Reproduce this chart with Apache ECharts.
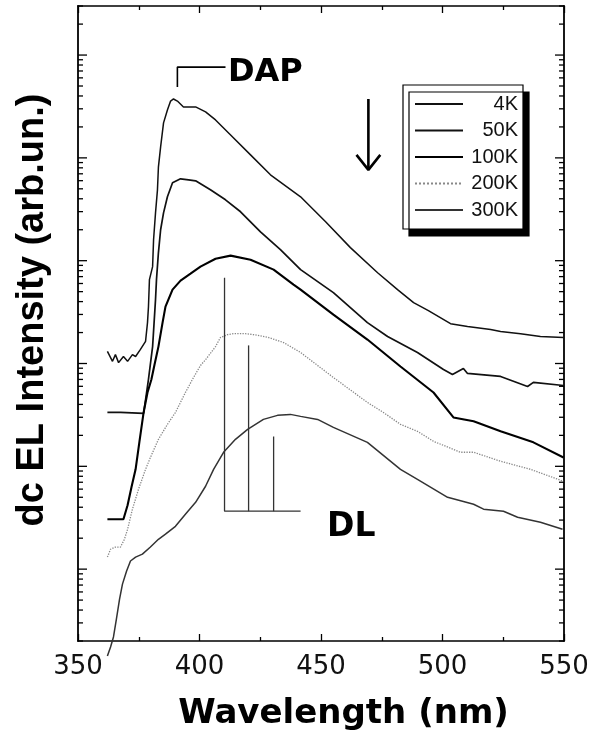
<!DOCTYPE html>
<html>
<head>
<meta charset="utf-8">
<script src="https://cdn.jsdelivr.net/npm/echarts@6/dist/echarts.min.js"></script>
<style>html,body{margin:0;padding:0;background:#fff;}#c{width:598px;height:739px;}</style>
</head>
<body>
<div id="c"></div>
<script>
// ---- data (wavelength nm, intensity arb. units) ----
const xTicks = [350, 400, 450, 500, 550];
const yRange = [0.2, 300000];
const yDecades = [1, 10, 100, 1000, 10000, 100000];
const yMinorSteps = [2, 3, 4, 5, 6, 7, 8, 9];
const seriesNames = ['4K', '50K', '100K', '200K', '300K'];

const data4K = [[362.1,131],[364.2,105],[365.4,122],[366.7,102],[368.7,117],[370.4,105],[372.4,122],[373.7,117],[375.7,137],[377.8,164],[378.6,250],[379.0,357],[379.4,654],[380.7,875],[381.1,1600],[381.9,2920],[382.7,4890],[383.1,8180],[384.0,12800],[385.2,21900],[386.8,29200],[388.1,35700],[389.3,37400],[390.9,35700],[393.4,31300],[396.3,31300],[398.4,31300],[402.5,28000],[406.6,23400],[412.8,16700],[421.0,10700],[429.2,6840],[441.6,4180],[451.9,2390],[462.1,1340],[473.3,764],[481.5,523],[488.1,391],[494.2,327],[503.3,244],[510.3,229],[519.8,214],[523.9,205],[532.1,195],[540.3,183],[549.8,179]];
const data50K = [[362.1,33.4],[367.5,33.4],[377.0,32.7],[379.0,70.0],[380.7,146],[381.9,418],[382.3,654],[383.1,1200],[384.0,2000],[385.2,2920],[386.8,4180],[388.9,5720],[392.2,6250],[395.5,6110],[398.4,5980],[404.5,4890],[410.7,3910],[416.9,2990],[425.1,1910],[433.3,1280],[441.6,818],[455.1,489],[469.1,250],[477.4,183],[489.7,128],[500.4,87.5],[504.1,78.2],[508.6,89.4],[510.3,80.0],[523.9,74.8],[535.0,59.8],[537.4,65.5],[549.8,61.1]];
const data100K = [[362.1,3.06],[368.7,3.06],[370.4,4.18],[372.0,6.25],[373.7,9.35],[375.3,17.5],[377.0,33.4],[378.6,52.2],[380.2,70.0],[381.5,97.7],[383.1,146],[384.8,250],[386.0,357],[388.9,523],[392.2,640],[396.3,748],[400.4,875],[406.6,1045],[412.8,1120],[421.0,1023],[430.5,818],[438.7,585],[441.6,523],[455.1,299],[469.1,171],[482.7,93.5],[496.3,52.2],[504.5,29.9],[512.8,27.4],[523.9,21.9],[537.4,17.1],[549.8,12.2]];
const data200K = [[362.1,1.31],[363.4,1.56],[365.4,1.64],[367.5,1.64],[369.1,1.95],[370.4,2.44],[372.4,3.83],[374.9,5.98],[377.8,9.35],[379.8,12.2],[383.1,18.3],[386.8,25.6],[390.1,33.4],[394.2,52.2],[397.1,70.0],[400.4,95.7],[402.5,109],[406.6,146],[408.6,179],[411.5,191],[414.0,195],[418.9,195],[422.2,191],[428.4,179],[434.6,160],[441.6,128],[455.1,73.1],[469.1,41.8],[475.7,33.4],[482.7,25.6],[489.7,21.9],[496.3,17.5],[507.4,13.7],[512.8,13.7],[523.9,11.2],[536.2,9.35],[549.8,7.15]];
const data300K = [[362.1,0.143],[363.4,0.175],[364.6,0.219],[365.8,0.327],[367.1,0.512],[368.3,0.715],[370.0,0.957],[371.6,1.20],[373.7,1.31],[376.5,1.40],[379.8,1.64],[383.1,1.95],[386.0,2.19],[390.1,2.61],[394.2,3.42],[398.4,4.47],[402.5,6.40],[405.8,9.35],[409.9,13.7],[414.8,18.3],[419.8,22.9],[426.3,28.6],[432.1,31.3],[437.4,32.0],[441.6,30.6],[448.6,28.6],[455.1,23.9],[469.1,17.1],[482.7,9.35],[489.7,7.48],[502.1,5.00],[512.8,4.28],[516.9,3.83],[525.1,3.66],[530.9,3.20],[540.3,2.86],[549.4,2.44]];

// annotations (data coordinates)
const dapBracket = [[390.9,48900],[390.9,76400],[410.7,76400]];
const dlLine1 = [[410.3,684],[410.3,3.66],[441.6,3.66]];
const dlLine2 = [[420.2,150],[420.2,3.66]];
const dlLine3 = [[430.5,19.5],[430.5,3.66]];
const arrowShaft = [[469.5,37400],[469.5,7640]];
const arrowHead = [[464.6,10700],[469.5,7640],[474.4,10700]];

// ---- build ----
const xMin = xTicks[0], xMax = xTicks[xTicks.length - 1];
const yTickData = [];
[0.1].concat(yDecades).forEach(function (d) {
  [1].concat(yMinorSteps).forEach(function (m) {
    const v = m * d;
    if (v >= yRange[0] * 0.999 && v <= yRange[1] * 1.001) yTickData.push([xMin, v, m === 1 ? 1 : 0]);
  });
});

const styles = {
  '4K':   { color: '#111', width: 1.5, type: 'solid' },
  '50K':  { color: '#111', width: 1.7, type: 'solid' },
  '100K': { color: '#000', width: 2.1, type: 'solid' },
  '200K': { color: '#888', width: 1.3, type: 'dotted' },
  '300K': { color: '#333', width: 1.5, type: 'solid' }
};
const dataMap = { '4K': data4K, '50K': data50K, '100K': data100K, '200K': data200K, '300K': data300K };

const series = seriesNames.map(function (n) {
  return {
    name: n, type: 'line', data: dataMap[n], symbol: 'none', clip: false,
    lineStyle: { color: styles[n].color, width: styles[n].width, type: styles[n].type },
    itemStyle: { color: styles[n].color }, animation: false, z: 3
  };
});

function annot(d, w, c) {
  return { type: 'line', data: d, symbol: 'none', silent: true, clip: false, animation: false,
    lineStyle: { color: c, width: w }, z: 4 };
}
series.push(annot(dapBracket, 1.6, '#000'));
series.push(annot(dlLine1, 1.3, '#333'));
series.push(annot(dlLine2, 1.3, '#333'));
series.push(annot(dlLine3, 1.3, '#333'));
series.push(annot(arrowShaft, 2.6, '#000'));
series.push(annot(arrowHead, 2.6, '#000'));

series.push({
  type: 'custom', data: yTickData, clip: false, silent: true, animation: false, z: 5,
  encode: { x: 0, y: 1 },
  renderItem: function (params, api) {
    const v = api.value(1);
    const major = api.value(2) === 1;
    const len = major ? 9 : 5;
    const pL = api.coord([xMin, v]);
    const pR = api.coord([xMax, v]);
    return { type: 'group', children: [
      { type: 'line', shape: { x1: pL[0], y1: pL[1], x2: pL[0] + len, y2: pL[1] }, style: { stroke: '#000', lineWidth: 1.3 } },
      { type: 'line', shape: { x1: pR[0] - len, y1: pR[1], x2: pR[0], y2: pR[1] }, style: { stroke: '#000', lineWidth: 1.3 } }
    ]};
  }
});

const baseX = {
  type: 'value', min: xMin, max: xMax, interval: 50,
  axisLine: { show: true, lineStyle: { color: '#000', width: 1.6 } },
  axisTick: { show: true, inside: true, length: 7, lineStyle: { color: '#000', width: 1.3 } },
  minorTick: { show: true, splitNumber: 2, length: 4, lineStyle: { color: '#000', width: 1.3 } },
  splitLine: { show: false }, minorSplitLine: { show: false }
};

const option = {
  backgroundColor: '#fff',
  animation: false,
  grid: { left: 78, right: 34, top: 6, bottom: 98, containLabel: false },
  xAxis: [
    Object.assign({}, baseX, {
      position: 'bottom',
      axisLabel: { show: true, margin: 13, fontFamily: 'DejaVu Sans', fontSize: 26, color: '#111' },
      name: 'Wavelength (nm)', nameLocation: 'middle', nameGap: 56,
      nameTextStyle: { fontFamily: 'DejaVu Sans', fontWeight: 'bold', fontSize: 34, color: '#000', padding: [0, 0, 0, 45] }
    }),
    Object.assign({}, baseX, { position: 'top', axisLabel: { show: false } })
  ],
  yAxis: [
    {
      type: 'log', logBase: 10, min: yRange[0], max: yRange[1], position: 'left',
      axisLine: { show: true, lineStyle: { color: '#000', width: 1.8 } },
      axisTick: { show: false }, axisLabel: { show: false }, splitLine: { show: false },
      name: 'dc EL Intensity (arb.un.)', nameLocation: 'middle', nameGap: 26,
      nameTextStyle: { fontFamily: 'Liberation Sans', fontWeight: 'bold', fontSize: 38, color: '#000', padding: [0, 0, 0, 27] }
    },
    {
      type: 'log', logBase: 10, min: yRange[0], max: yRange[1], position: 'right',
      axisLine: { show: true, lineStyle: { color: '#000', width: 1.8 } },
      axisTick: { show: false }, axisLabel: { show: false }, splitLine: { show: false }
    }
  ],
  legend: {
    data: seriesNames, orient: 'vertical', left: 403, top: 85,
    padding: [9, 5, 9, 11], itemWidth: 48, itemHeight: 14, itemGap: 6.5,
    backgroundColor: '#fff', borderColor: '#000', borderWidth: 1.2, borderRadius: 0,
    shadowColor: '#000', shadowBlur: 0, shadowOffsetX: 6, shadowOffsetY: 7,
    selectedMode: false,
    itemStyle: { opacity: 0 },
    formatter: '{a|{name}}',
    textStyle: {
      fontFamily: 'Liberation Sans', fontSize: 20, color: '#111',
      rich: { a: { fontFamily: 'Liberation Sans', fontSize: 20, color: '#111', width: 50, align: 'right', lineHeight: 16 } }
    }
  },
  graphic: [
    { type: 'text', x: 228, y: 73, style: { text: 'DAP', fontFamily: 'DejaVu Sans', fontWeight: 'bold', fontSize: 32, fill: '#000', verticalAlign: 'middle' } },
    { type: 'text', x: 327, y: 527, style: { text: 'DL', fontFamily: 'DejaVu Sans', fontWeight: 'bold', fontSize: 33, fill: '#000', verticalAlign: 'middle' } }
  ],
  series: series
};

const chart = echarts.init(document.getElementById('c'), null, { renderer: 'canvas' });
chart.setOption(option);
</script>
</body>
</html>
